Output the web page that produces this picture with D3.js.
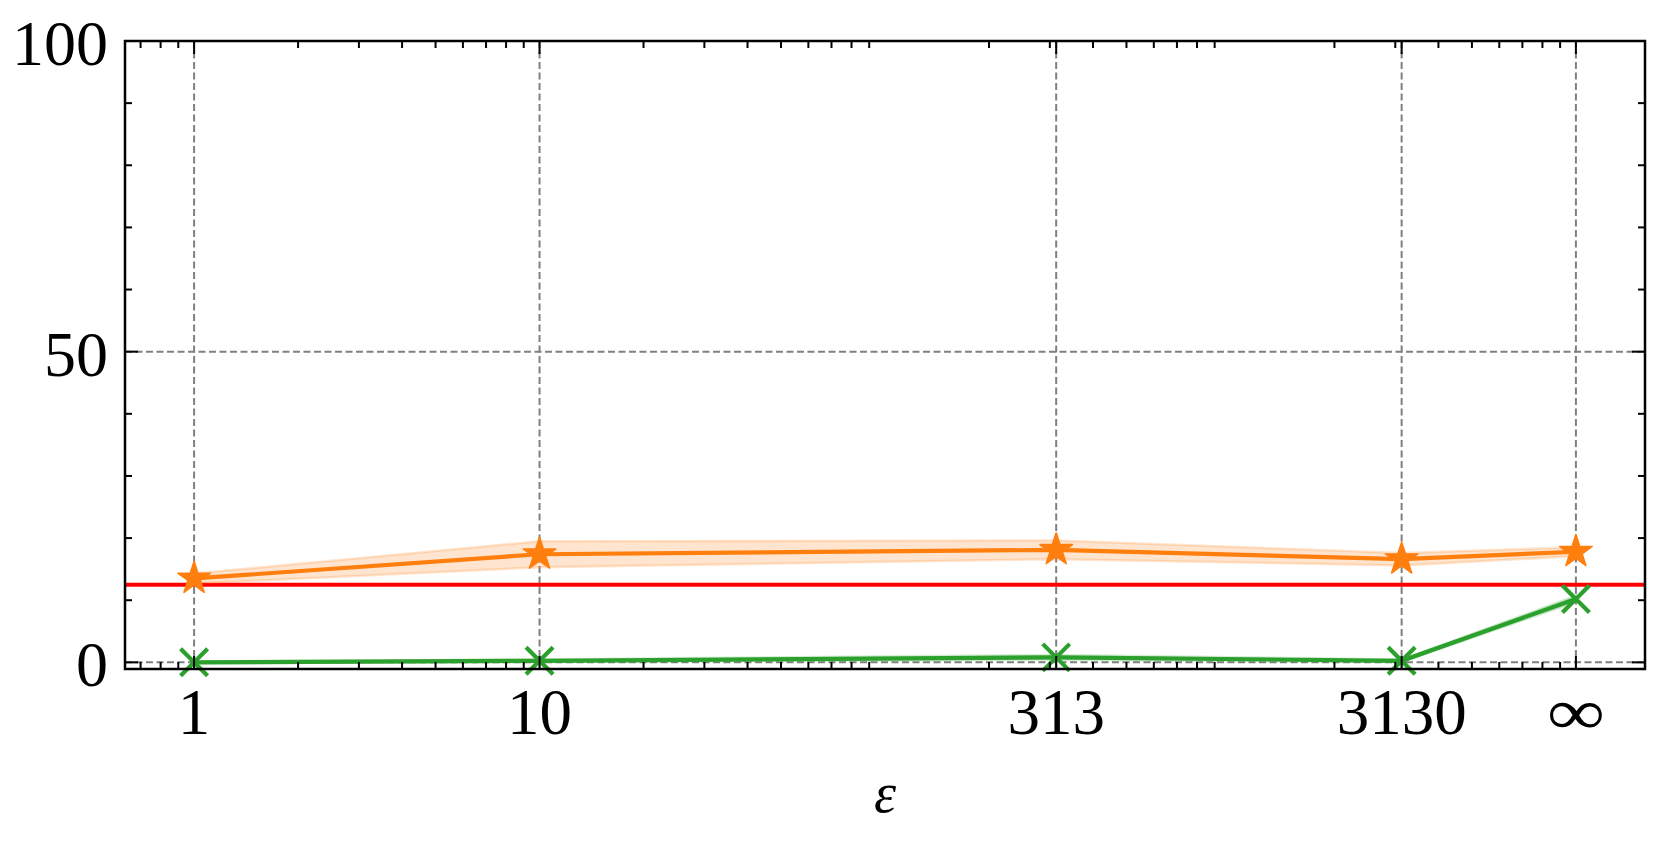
<!DOCTYPE html>
<html>
<head>
<meta charset="utf-8">
<script src="https://cdn.jsdelivr.net/npm/d3@7"></script>
<style>
  html, body { margin: 0; padding: 0; background: #fff; }
  svg { display: block; }
  text { font-family: "Liberation Serif", "DejaVu Serif", serif; fill: #000; }
</style>
</head>
<body>
<svg id="chart" width="1661" height="842"></svg>
<script>
// ---- data ----
const xValues = [1, 10, 313, 3130, 10000];
const xTickLabels = ["1", "10", "313", "3130", "\u221E"];
const orangeMean = [13.5, 17.4, 18.1, 16.6, 17.8];
const orangeStd  = [0.8, 2.1, 1.5, 1.0, 0.7];
const greenMean  = [0.0, 0.25, 0.8, 0.25, 10.2];
const greenStd   = [0.15, 0.2, 0.4, 0.2, 0.5];
const redBaseline = 12.5;
const yMajorTicks = [0, 50, 100];
const yMinorTicks = [10, 20, 30, 40, 60, 70, 80, 90];
const xLabel = "\u03B5";

// ---- layout ----
const svg = d3.select("#chart");
const L = 125, R = 1645, T = 41, B = 669;
const x = d3.scaleLog().domain([Math.pow(10, -0.2), Math.pow(10, 4.2)]).range([L, R]);
const y = d3.scaleLinear().domain([-1.07, 100]).range([B, T]);

const orange = "#ff7f0e", green = "#2ca02c", red = "#ff0000";

// minor log ticks (2..9 x 10^n)
const xMinor = [];
for (let n = -1; n <= 4; n++) for (let k = 2; k <= 9; k++) {
  const v = k * Math.pow(10, n);
  if (v > x.domain()[0] && v < x.domain()[1]) xMinor.push(v);
}

// clip
svg.append("defs").append("clipPath").attr("id", "clip")
  .append("rect").attr("x", L).attr("y", T).attr("width", R - L).attr("height", B - T);

// grid
const grid = svg.append("g").attr("stroke", "#808080").attr("stroke-width", 2)
  .attr("stroke-dasharray", "7,3.5");
grid.selectAll("line.gx").data(xValues).join("line")
  .attr("x1", d => x(d)).attr("x2", d => x(d)).attr("y1", T).attr("y2", B);
grid.selectAll("line.gy").data(yMajorTicks).join("line")
  .attr("x1", L).attr("x2", R).attr("y1", d => y(d)).attr("y2", d => y(d));

const plot = svg.append("g").attr("clip-path", "url(#clip)");

function drawSeries(mean, std, color) {
  const pts = xValues.map((v, i) => ({x: v, m: mean[i], s: std[i]}));
  const area = d3.area().x(d => x(d.x)).y0(d => y(d.m - d.s)).y1(d => y(d.m + d.s));
  plot.append("path").datum(pts).attr("d", area)
    .attr("fill", color).attr("fill-opacity", 0.2)
    .attr("stroke", color).attr("stroke-opacity", 0.2).attr("stroke-width", 2.5);
  plot.append("path").datum(pts)
    .attr("d", d3.line().x(d => x(d.x)).y(d => y(d.m)))
    .attr("fill", "none").attr("stroke", color).attr("stroke-width", 4.2);
  return pts;
}

// red baseline
plot.append("line").attr("x1", L).attr("x2", R)
  .attr("y1", y(redBaseline)).attr("y2", y(redBaseline))
  .attr("stroke", red).attr("stroke-width", 4);

const oPts = drawSeries(orangeMean, orangeStd, orange);
const gPts = drawSeries(greenMean, greenStd, green);

// markers
const star = d3.symbol().type(d3.symbolStar).size(330);
plot.selectAll("path.star").data(oPts).join("path")
  .attr("transform", d => `translate(${x(d.x)},${y(d.m)})`)
  .attr("d", star).attr("fill", orange).attr("stroke", orange).attr("stroke-width", 1.5)
  .attr("stroke-linejoin", "round");
const h = 13.5;
svg.selectAll("path.xm").data(gPts).join("path")
  .attr("transform", d => `translate(${x(d.x)},${y(d.m)})`)
  .attr("d", `M${-h},${-h}L${h},${h}M${-h},${h}L${h},${-h}`)
  .attr("stroke", green).attr("stroke-width", 4.2).attr("fill", "none");

// ticks (inward, mirrored)
const ticks = svg.append("g").attr("stroke", "#000").attr("stroke-width", 2);
const majLen = 13, minLen = 7;
ticks.selectAll("line.xM").data(xValues).join("line")
  .attr("x1", d => x(d)).attr("x2", d => x(d)).attr("y1", B).attr("y2", B - majLen);
ticks.selectAll("line.xMt").data(xValues).join("line")
  .attr("x1", d => x(d)).attr("x2", d => x(d)).attr("y1", T).attr("y2", T + majLen);
ticks.selectAll("line.xm").data(xMinor).join("line")
  .attr("x1", d => x(d)).attr("x2", d => x(d)).attr("y1", B).attr("y2", B - minLen);
ticks.selectAll("line.xmt").data(xMinor).join("line")
  .attr("x1", d => x(d)).attr("x2", d => x(d)).attr("y1", T).attr("y2", T + minLen);
ticks.selectAll("line.yM").data(yMajorTicks).join("line")
  .attr("x1", L).attr("x2", L + majLen).attr("y1", d => y(d)).attr("y2", d => y(d));
ticks.selectAll("line.yMr").data(yMajorTicks).join("line")
  .attr("x1", R).attr("x2", R - majLen).attr("y1", d => y(d)).attr("y2", d => y(d));
ticks.selectAll("line.ym").data(yMinorTicks).join("line")
  .attr("x1", L).attr("x2", L + minLen).attr("y1", d => y(d)).attr("y2", d => y(d));
ticks.selectAll("line.ymr").data(yMinorTicks).join("line")
  .attr("x1", R).attr("x2", R - minLen).attr("y1", d => y(d)).attr("y2", d => y(d));

// frame
svg.append("rect").attr("x", L).attr("y", T).attr("width", R - L).attr("height", B - T)
  .attr("fill", "none").attr("stroke", "#000").attr("stroke-width", 2.5);

// tick labels
svg.selectAll("text.xl").data(xValues).join("text")
  .attr("x", d => x(d)).attr("y", 734)
  .attr("text-anchor", "middle").attr("font-size", 65)
  .attr("transform", (d, i) => xTickLabels[i] === "\u221E" ? `translate(${x(d)},0) scale(1.25,1) translate(${-x(d)},0)` : null)
  .text((d, i) => xTickLabels[i]);
svg.selectAll("text.yl").data(yMajorTicks).join("text")
  .attr("x", 108).attr("y", d => y(d) + 24)
  .attr("text-anchor", "end").attr("font-size", 64)
  .text(d => d);

// axis label
svg.append("text").attr("x", (L + R) / 2).attr("y", 812)
  .attr("text-anchor", "middle").attr("font-size", 56).attr("font-style", "italic")
  .text(xLabel);
</script>
</body>
</html>
